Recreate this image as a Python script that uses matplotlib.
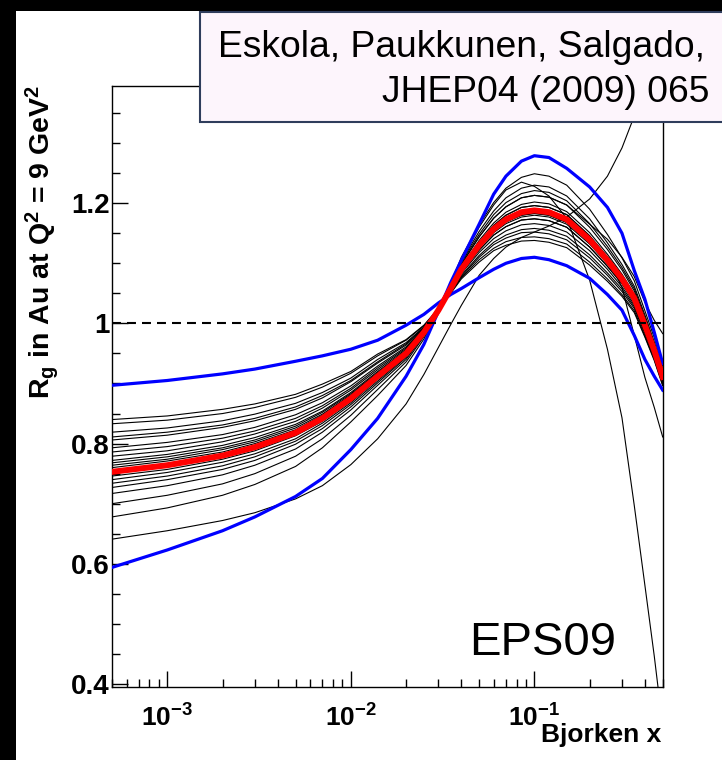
import numpy as np
import matplotlib
matplotlib.use('Agg')
import matplotlib.pyplot as plt
from matplotlib.patches import Rectangle
from matplotlib.ticker import FixedLocator, NullFormatter

plt.rcParams['font.family'] = ['Liberation Sans', 'DejaVu Sans']
plt.rcParams['mathtext.fontset'] = 'custom'
plt.rcParams['mathtext.rm'] = 'Liberation Sans:bold'
plt.rcParams['mathtext.bf'] = 'Liberation Sans:bold'
plt.rcParams['mathtext.default'] = 'bf'

# Bjorken x grid shared by every curve
x_grid = [5e-4, 1e-3, 2e-3, 3e-3, 5e-3, 7e-3, 1e-2, 1.4e-2, 2e-2, 2.5e-2, 3e-2,
          3.5e-2, 4e-2, 5e-2, 6e-2, 7e-2, 8.5e-2, 0.1, 0.12, 0.15, 0.2, 0.25, 0.3,
          0.35, 0.4, 0.45, 0.5]

# central EPS09 set
r_central = [0.753, 0.764, 0.780, 0.794, 0.818, 0.842, 0.875, 0.912, 0.950, 0.985, 1.022,
             1.058, 1.090, 1.130, 1.157, 1.173, 1.185, 1.188, 1.185, 1.173, 1.139, 1.105, 1.074,
             1.042, 0.997, 0.955, 0.911]

# envelope of the uncertainty band
band_shallow = [0.897, 0.905, 0.916, 0.924, 0.937, 0.946, 0.957, 0.972, 0.997, 1.015, 1.034,
                1.048, 1.058, 1.076, 1.090, 1.100, 1.108, 1.110, 1.106, 1.096, 1.075, 1.048, 1.022,
                0.980, 0.940, 0.912, 0.889]
band_steep = [0.594, 0.623, 0.655, 0.678, 0.712, 0.742, 0.790, 0.842, 0.912, 0.965, 1.020,
              1.068, 1.105, 1.165, 1.215, 1.245, 1.270, 1.279, 1.276, 1.258, 1.227, 1.193, 1.150,
              1.088, 1.040, 0.985, 0.933]

# individual error sets
error_sets = [
    [0.840, 0.846, 0.857, 0.866, 0.882, 0.899, 0.920, 0.949, 0.973, 0.997, 1.025,
     1.051, 1.076, 1.106, 1.125, 1.136, 1.143, 1.144, 1.141, 1.132, 1.102, 1.074, 1.048, 1.021, 0.979, 0.940, 0.898],
    [0.833, 0.839, 0.850, 0.860, 0.877, 0.894, 0.917, 0.946, 0.972, 0.996, 1.024,
     1.053, 1.078, 1.110, 1.131, 1.142, 1.151, 1.152, 1.149, 1.139, 1.109, 1.080, 1.053, 1.025, 0.983, 0.943, 0.900],
    [0.819, 0.826, 0.838, 0.849, 0.867, 0.885, 0.909, 0.940, 0.968, 0.994, 1.024,
     1.055, 1.083, 1.118, 1.141, 1.154, 1.164, 1.166, 1.163, 1.152, 1.121, 1.090, 1.061, 1.031, 0.988, 0.948, 0.904],
    [0.811, 0.819, 0.831, 0.842, 0.861, 0.880, 0.905, 0.936, 0.966, 0.993, 1.024,
     1.053, 1.080, 1.113, 1.135, 1.147, 1.156, 1.158, 1.155, 1.145, 1.114, 1.084, 1.057, 1.028, 0.985, 0.945, 0.902],
    [0.806, 0.814, 0.827, 0.838, 0.857, 0.876, 0.903, 0.934, 0.964, 0.992, 1.024,
     1.056, 1.086, 1.122, 1.147, 1.161, 1.172, 1.174, 1.171, 1.160, 1.127, 1.095, 1.066, 1.035, 0.991, 0.950, 0.907],
    [0.793, 0.802, 0.815, 0.827, 0.848, 0.868, 0.896, 0.929, 0.961, 0.991, 1.023,
     1.057, 1.088, 1.127, 1.153, 1.169, 1.180, 1.183, 1.180, 1.168, 1.135, 1.101, 1.071, 1.040, 0.995, 0.953, 0.909],
    [0.786, 0.795, 0.809, 0.821, 0.842, 0.863, 0.892, 0.926, 0.959, 0.990, 1.023,
     1.050, 1.074, 1.102, 1.121, 1.130, 1.137, 1.138, 1.135, 1.126, 1.097, 1.070, 1.045, 1.018, 0.977, 0.938, 0.896],
    [0.779, 0.788, 0.803, 0.816, 0.837, 0.859, 0.889, 0.923, 0.957, 0.989, 1.023,
     1.059, 1.093, 1.134, 1.163, 1.180, 1.193, 1.196, 1.193, 1.181, 1.145, 1.110, 1.060, 0.980, 0.910, 0.860, 0.811],
    [0.772, 0.782, 0.797, 0.810, 0.832, 0.854, 0.885, 0.920, 0.955, 0.988, 1.023,
     1.057, 1.087, 1.126, 1.151, 1.166, 1.177, 1.180, 1.177, 1.165, 1.132, 1.099, 1.069, 1.038, 0.994, 0.952, 0.909],
    [0.768, 0.778, 0.793, 0.806, 0.829, 0.852, 0.883, 0.918, 0.954, 0.987, 1.022,
     1.060, 1.094, 1.138, 1.167, 1.185, 1.198, 1.202, 1.199, 1.186, 1.151, 1.115, 1.082, 1.049, 1.003, 0.960, 0.915],
    [0.764, 0.774, 0.790, 0.803, 0.826, 0.849, 0.881, 0.917, 0.953, 0.987, 1.022,
     1.056, 1.086, 1.122, 1.147, 1.161, 1.172, 1.174, 1.171, 1.160, 1.127, 1.095, 1.066, 1.035, 0.991, 0.950, 0.907],
    [0.760, 0.771, 0.786, 0.800, 0.823, 0.847, 0.879, 0.915, 0.952, 0.986, 1.022,
     1.062, 1.098, 1.144, 1.175, 1.194, 1.209, 1.213, 1.210, 1.197, 1.165, 1.140, 1.110, 1.078, 1.035, 1.005, 0.983],
    [0.753, 0.764, 0.780, 0.794, 0.818, 0.842, 0.875, 0.912, 0.950, 0.985, 1.022,
     1.058, 1.090, 1.130, 1.157, 1.173, 1.185, 1.188, 1.185, 1.173, 1.139, 1.105, 1.074, 1.042, 0.997, 0.955, 0.911],
    [0.746, 0.757, 0.774, 0.788, 0.813, 0.837, 0.871, 0.909, 0.948, 0.984, 1.022,
     1.059, 1.093, 1.134, 1.163, 1.180, 1.193, 1.196, 1.193, 1.181, 1.146, 1.111, 1.079, 1.046, 1.000, 0.958, 0.913],
    [0.740, 0.752, 0.769, 0.783, 0.808, 0.834, 0.868, 0.907, 0.946, 0.983, 1.022,
     1.063, 1.101, 1.148, 1.181, 1.201, 1.216, 1.221, 1.218, 1.204, 1.166, 1.128, 1.093, 1.058, 1.010, 0.966, 0.921],
    [0.734, 0.746, 0.763, 0.778, 0.804, 0.830, 0.865, 0.904, 0.945, 0.982, 1.021,
     1.057, 1.088, 1.127, 1.153, 1.169, 1.180, 1.183, 1.180, 1.168, 1.135, 1.101, 1.071, 1.040, 0.995, 0.953, 0.909],
    [0.727, 0.740, 0.757, 0.772, 0.799, 0.825, 0.861, 0.901, 0.943, 0.981, 1.021,
     1.065, 1.105, 1.160, 1.197, 1.222, 1.235, 1.228, 1.212, 1.175, 1.072, 0.957, 0.843, 0.697, 0.564, 0.446, 0.330],
    [0.717, 0.730, 0.748, 0.764, 0.791, 0.819, 0.856, 0.897, 0.940, 0.980, 1.021,
     1.064, 1.103, 1.153, 1.187, 1.209, 1.225, 1.230, 1.227, 1.212, 1.174, 1.134, 1.098, 1.062, 1.014, 0.969, 0.924],
    [0.700, 0.714, 0.733, 0.750, 0.779, 0.808, 0.847, 0.890, 0.936, 0.978, 1.020,
     1.062, 1.098, 1.144, 1.175, 1.194, 1.209, 1.213, 1.210, 1.197, 1.160, 1.123, 1.089, 1.054, 1.007, 0.964, 0.919],
    [0.678, 0.693, 0.714, 0.732, 0.762, 0.793, 0.836, 0.880, 0.930, 0.974, 1.020,
     1.067, 1.110, 1.164, 1.201, 1.225, 1.243, 1.249, 1.245, 1.230, 1.190, 1.148, 1.109, 1.071, 1.021, 0.976, 0.929],
    [0.641, 0.655, 0.672, 0.685, 0.708, 0.730, 0.765, 0.808, 0.866, 0.915, 0.960,
     0.998, 1.030, 1.080, 1.108, 1.127, 1.143, 1.152, 1.162, 1.177, 1.207, 1.245, 1.292, 1.345, 1.420, 1.510, 1.620],
]

x_ticks = [1e-3, 1e-2, 1e-1]
x_ticklabels = [r'$10^{-3}$', r'$10^{-2}$', r'$10^{-1}$']
y_ticks = [0.4, 0.6, 0.8, 1.0, 1.2]
y_ticklabels = ['0.4', '0.6', '0.8', '1', '1.2']

W, H = 722, 760
fig = plt.figure(figsize=(W / 100, H / 100), dpi=100, facecolor='black')
fig.patches.append(Rectangle((16 / W, 0), 1 - 16 / W, 1 - 11 / H, transform=fig.transFigure,
                             facecolor='white', edgecolor='none', zorder=-10))

ax = fig.add_axes([112 / W, 1 - 686.7 / H, (662.7 - 112) / W, (686.7 - 86) / H])
ax.set_xscale('log')
ax.set_xlim(5e-4, 0.5)
ax.set_ylim(0.3955, 1.395)

for ys in error_sets:
    ax.plot(x_grid, ys, color='black', lw=0.8, zorder=2)
ax.plot(x_grid, band_shallow, color='#0000ff', lw=2.3, zorder=3)
ax.plot(x_grid, band_steep, color='#0000ff', lw=2.3, zorder=3)
ax.plot(x_grid, r_central, color='#ff0000', lw=4.3, zorder=4, solid_joinstyle='round')
ax.plot([5e-4, 0.5], [1.0, 1.0], color='black', lw=1.5, ls=(0, (4.3, 2.9)), zorder=5)

for s in ax.spines.values():
    s.set_linewidth(1.0)

ax.set_xticks(x_ticks)
ax.set_xticklabels(x_ticklabels)
ax.xaxis.set_minor_locator(FixedLocator(
    [m * 10.0 ** e for e in (-4, -3, -2, -1) for m in range(2, 10)]))
ax.xaxis.set_minor_formatter(NullFormatter())
ax.set_yticks(y_ticks)
ax.set_yticklabels(y_ticklabels)
ax.yaxis.set_minor_locator(FixedLocator(np.arange(0.45, 1.4, 0.05)))

ax.tick_params(axis='both', which='both', direction='in', top=False, right=False, color='black')
ax.tick_params(axis='both', which='major', length=11.5, width=1.0)
ax.tick_params(axis='both', which='minor', length=5.8, width=1.0)
ax.tick_params(axis='y', which='major', labelsize=20, pad=1.5)
ax.tick_params(axis='x', which='major', labelsize=19, pad=13)
for lab in ax.get_yticklabels():
    lab.set_fontweight('bold')

ax.text(469 / W, 1 - 655 / H, 'EPS09', transform=fig.transFigure, fontsize=34,
        ha='left', va='baseline', zorder=6)

fig.text(661 / W, 1 - 741.7 / H, 'Bjorken x', fontsize=19, fontweight='bold',
         ha='right', va='baseline')
fig.text(42 / W, 1 - 85 / H, r'R$_{g}$ in Au at Q$^{2}$ = 9 GeV$^{2}$', fontsize=20.5,
         fontweight='bold', rotation=90, ha='center', va='top')

# reference box
fig.patches.append(Rectangle((199.5 / W, 1 - 122 / H), (W + 5 - 199.5) / W, (122 - 11.5) / H,
                             transform=fig.transFigure, facecolor='#fdf5fc',
                             edgecolor='#2f3d5c', lw=1.5, zorder=10))
fig.text(218 / W, 1 - 57 / H, 'Eskola, Paukkunen, Salgado,', fontsize=26.8,
         ha='left', va='baseline', zorder=11)
fig.text(709 / W, 1 - 102 / H, 'JHEP04 (2009) 065', fontsize=26.8,
         ha='right', va='baseline', zorder=11)

fig.savefig('out.png', dpi=100, facecolor=fig.get_facecolor())
